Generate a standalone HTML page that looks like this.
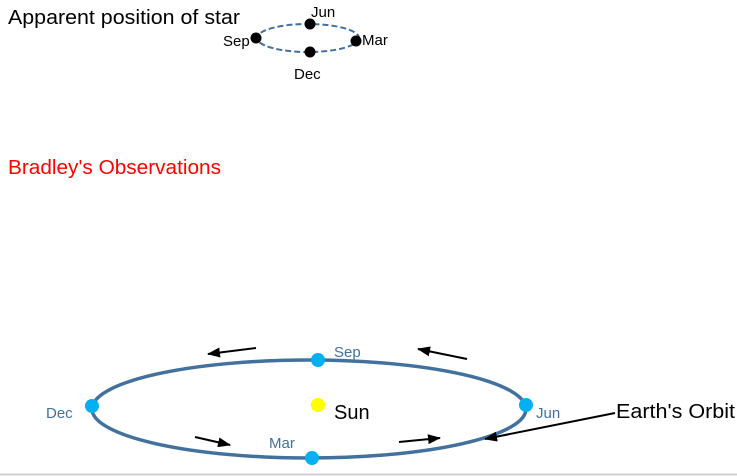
<!DOCTYPE html>
<html><head><style>
body{margin:0;width:737px;height:476px;background:#fff;overflow:hidden}
svg{display:block}
text{font-family:"Liberation Sans",sans-serif}
</style></head><body>
<svg width="737" height="476" viewBox="0 0 737 476">
<defs><marker id="a" markerWidth="13" markerHeight="10" refX="12" refY="5" orient="auto" markerUnits="userSpaceOnUse"><path d="M0,0 L13,5 L0,10 z" fill="#000"/></marker></defs>
<text x="8" y="24" font-size="20" textLength="232" lengthAdjust="spacingAndGlyphs">Apparent position of star</text>
<ellipse cx="308" cy="38" rx="51" ry="14" fill="none" stroke="#41719c" stroke-width="2" stroke-dasharray="6,3"/>
<circle cx="310" cy="24" r="5.5" fill="#000"/>
<circle cx="256" cy="38" r="5.5" fill="#000"/>
<circle cx="356" cy="41" r="5.5" fill="#000"/>
<circle cx="310" cy="52" r="5.5" fill="#000"/>
<text x="311" y="17" font-size="15">Jun</text>
<text x="223" y="46" font-size="15">Sep</text>
<text x="362" y="45" font-size="15">Mar</text>
<text x="294" y="79" font-size="15">Dec</text>
<text x="8" y="174" font-size="20" fill="#ff0000" textLength="213" lengthAdjust="spacingAndGlyphs">Bradley's Observations</text>
<ellipse cx="309" cy="409" rx="217" ry="49" fill="none" stroke="#41719c" stroke-width="3.5"/>
<circle cx="318" cy="360" r="7" fill="#00b0f0"/>
<circle cx="92" cy="406" r="7" fill="#00b0f0"/>
<circle cx="526" cy="405" r="7" fill="#00b0f0"/>
<circle cx="312" cy="458" r="7" fill="#00b0f0"/>
<circle cx="318" cy="405" r="7" fill="#ffff00"/>
<text x="334" y="357" font-size="15" fill="#41719c">Sep</text>
<text x="46" y="418" font-size="15" fill="#41719c">Dec</text>
<text x="536" y="418" font-size="15" fill="#41719c">Jun</text>
<text x="269" y="448" font-size="15" fill="#41719c">Mar</text>
<text x="334" y="419" font-size="20">Sun</text>
<text x="616" y="418" font-size="20" textLength="119" lengthAdjust="spacingAndGlyphs">Earth's Orbit</text>
<g stroke="#000" stroke-width="2" marker-end="url(#a)">
<line x1="256" y1="348" x2="208" y2="354"/>
<line x1="467" y1="359" x2="418" y2="349"/>
<line x1="195" y1="437" x2="230" y2="445"/>
<line x1="399" y1="442" x2="440" y2="438"/>
<line x1="615" y1="413" x2="485" y2="439"/>
</g>
<line x1="0" y1="474.5" x2="737" y2="474.5" stroke="#d0d0d0" stroke-width="2"/>
</svg>
</body></html>
